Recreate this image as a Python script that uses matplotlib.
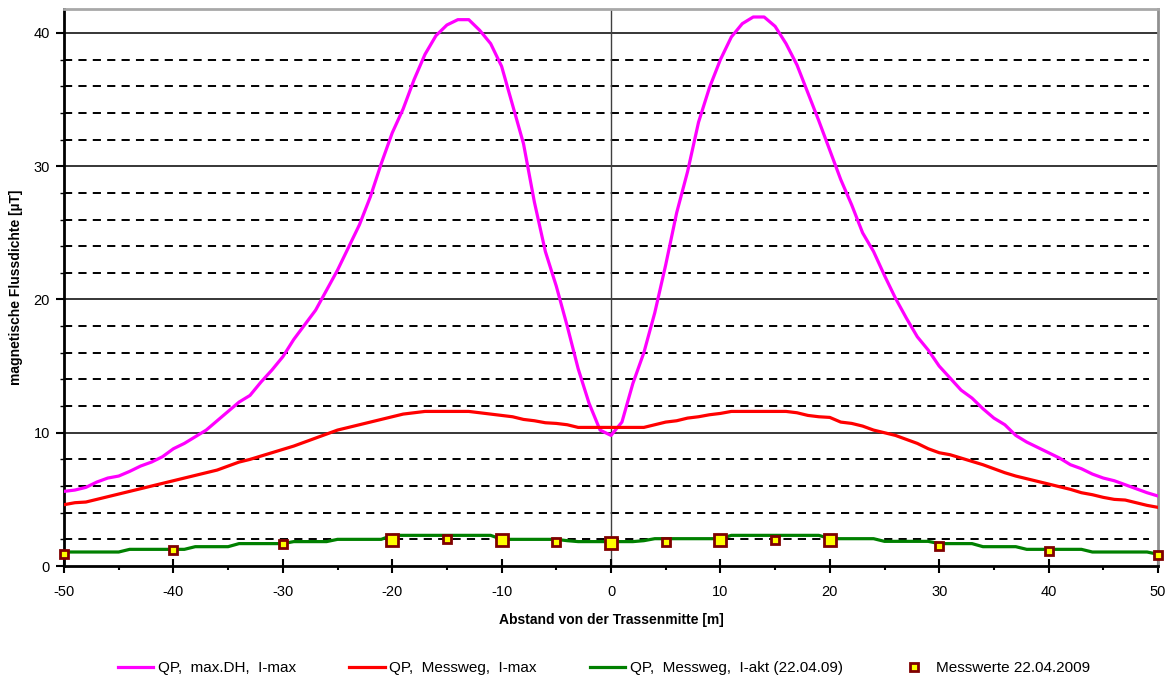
import numpy as np
import matplotlib
matplotlib.use('Agg')
import matplotlib.pyplot as plt
from matplotlib.ticker import MultipleLocator

plt.rcParams['font.family'] = ['Liberation Sans', 'DejaVu Sans']
plt.rcParams['axes.unicode_minus'] = False

# distance from the centre of the route [m]
x = np.arange(-50, 51, 1)

# QP, max.DH, I-max
b_max_dh = [5.6, 5.7, 5.9, 6.3, 6.6, 6.75, 7.1, 7.5, 7.8, 8.2,
            8.8, 9.2, 9.7, 10.2, 10.9, 11.6, 12.3, 12.8, 13.8, 14.7,
            15.7, 17.0, 18.1, 19.2, 20.7, 22.2, 23.9, 25.6, 27.7, 30.2,
            32.5, 34.3, 36.5, 38.4, 39.8, 40.6, 41.0, 41.0, 40.2, 39.2,
            37.5, 34.6, 31.7, 27.3, 23.6, 21.0, 18.0, 14.8, 12.2, 10.2,
            9.8,
            10.8, 13.7, 16.0, 19.0, 22.6, 26.5, 29.6, 33.3, 35.9, 38.0,
            39.7, 40.7, 41.2, 41.2, 40.5, 39.2, 37.6, 35.5, 33.4, 31.2,
            29.0, 27.1, 25.0, 23.6, 21.8, 20.1, 18.6, 17.2, 16.2, 15.0,
            14.1, 13.2, 12.6, 11.8, 11.1, 10.6, 9.8, 9.3, 8.9, 8.5,
            8.1, 7.6, 7.3, 6.9, 6.6, 6.4, 6.1, 5.8, 5.5, 5.25]

# QP, Messweg, I-max
b_messweg_max = [4.6, 4.75, 4.8, 5.0, 5.2, 5.4, 5.6, 5.8, 6.0, 6.2,
                 6.4, 6.6, 6.8, 7.0, 7.2, 7.5, 7.8, 8.0, 8.25, 8.5,
                 8.75, 9.0, 9.3, 9.6, 9.9, 10.2, 10.4, 10.6, 10.8, 11.0,
                 11.2, 11.4, 11.5, 11.6, 11.6, 11.6, 11.6, 11.6, 11.5, 11.4,
                 11.3, 11.2, 11.0, 10.9, 10.75, 10.7, 10.6, 10.4, 10.4, 10.4,
                 10.4,
                 10.4, 10.4, 10.4, 10.6, 10.8, 10.9, 11.1, 11.2, 11.35, 11.45,
                 11.6, 11.6, 11.6, 11.6, 11.6, 11.6, 11.5, 11.3, 11.2, 11.15,
                 10.8, 10.7, 10.5, 10.2, 10.0, 9.8, 9.5, 9.2, 8.8, 8.5,
                 8.35, 8.1, 7.85, 7.6, 7.3, 7.0, 6.75, 6.55, 6.35, 6.15,
                 5.95, 5.75, 5.5, 5.35, 5.15, 5.0, 4.95, 4.75, 4.55, 4.4]

# QP, Messweg, I-akt (22.04.09)
b_messweg_akt = [1.05, 1.05, 1.05, 1.05, 1.05, 1.05, 1.25, 1.25, 1.25, 1.25,
                 1.25, 1.25, 1.45, 1.45, 1.45, 1.45, 1.68, 1.68, 1.68, 1.68,
                 1.68, 1.83, 1.83, 1.83, 1.83, 2.0, 2.0, 2.0, 2.0, 2.0,
                 2.3, 2.3, 2.3, 2.3, 2.3, 2.3, 2.3, 2.3, 2.3, 2.3,
                 2.0, 2.0, 2.0, 2.0, 2.0, 2.0, 1.9, 1.83, 1.83, 1.83,
                 1.83,
                 1.83, 1.83, 1.9, 2.05, 2.05, 2.05, 2.05, 2.05, 2.05, 2.05,
                 2.3, 2.3, 2.3, 2.3, 2.3, 2.3, 2.3, 2.3, 2.3, 2.05,
                 2.05, 2.05, 2.05, 2.05, 1.85, 1.85, 1.85, 1.85, 1.85, 1.68,
                 1.68, 1.68, 1.68, 1.45, 1.45, 1.45, 1.45, 1.25, 1.25, 1.25,
                 1.25, 1.25, 1.25, 1.05, 1.05, 1.05, 1.05, 1.05, 1.05, 0.88]

# Messwerte 22.04.2009
x_mess = [-50, -40, -30, -20, -15, -10, -5, 0, 5, 10, 15, 20, 30, 40, 50]
b_mess = [0.93, 1.2, 1.63, 1.93, 2.05, 1.93, 1.83, 1.7, 1.83, 1.93, 1.95, 1.95, 1.5, 1.13, 0.85]

fig = plt.figure(figsize=(11.73, 6.81), dpi=100)
ax = fig.add_axes([64 / 1173, 1 - 566 / 681, 1094 / 1173, 557 / 681])

# grid lines
for v in range(2, 42, 2):
    if v % 10 == 0:
        ax.axhline(v, color='black', lw=1.1, zorder=1)
    else:
        ax.axhline(v, xmax=0.992, color='black', lw=1.4, dashes=(4.2, 3.2), zorder=1)
ax.axvline(0, color='#404040', lw=1.0, zorder=1)

ax.plot(x, b_max_dh, color='#FF00FF', lw=2.3, label='QP,  max.DH,  I-max', zorder=3)
ax.plot(x, b_messweg_max, color='#FF0000', lw=2.3, label='QP,  Messweg,  I-max', zorder=3)
ax.plot(x, b_messweg_akt, color='#008000', lw=2.3, label='QP,  Messweg,  I-akt (22.04.09)', zorder=3)
sizes = [8.5 if (xm % 10 == 0 and abs(xm) <= 20) else 6 for xm in x_mess]
for xm, bm, s in zip(x_mess, b_mess, sizes):
    ax.plot(xm, bm, 's', ms=s, mfc='#FFFF00', mec='#800000', mew=2, clip_on=False, zorder=4)
ax.plot([], [], 's', ms=6, mfc='#FFFF00', mec='#800000', mew=2, label='Messwerte 22.04.2009')

ax.set_xlim(-50, 50)
ax.set_ylim(0, 41.8)
ax.xaxis.set_major_locator(MultipleLocator(10))
ax.xaxis.set_minor_locator(MultipleLocator(5))
ax.yaxis.set_major_locator(MultipleLocator(10))
ax.yaxis.set_minor_locator(MultipleLocator(2))
ax.tick_params(axis='x', which='major', direction='inout', length=10, width=1.5, pad=9, labelsize=10.5)
ax.tick_params(axis='x', which='minor', direction='out', length=3, width=1.5)
ax.tick_params(axis='y', which='major', direction='out', length=6, width=1.5, pad=4, labelsize=10.5)
ax.tick_params(axis='y', which='minor', direction='out', length=3, width=1.0)

ax.spines['left'].set_linewidth(2)
ax.spines['bottom'].set_linewidth(2)
ax.spines['right'].set_color('#909090')
ax.spines['right'].set_linewidth(2)
ax.spines['top'].set_color('#A8A8A8')
ax.spines['top'].set_linewidth(2)

ax.set_xlabel('Abstand von der Trassenmitte [m]', fontsize=10, fontweight='bold', labelpad=10)
ax.set_ylabel('magnetische Flussdichte [µT]', fontsize=10, fontweight='bold', labelpad=8)

fig.legend(loc='center', bbox_to_anchor=(0.515, 0.019), ncol=4, frameon=False, fontsize=11,
           handlelength=2.3, columnspacing=3.5, handletextpad=0.3)

plt.savefig('out.png', dpi=100)
